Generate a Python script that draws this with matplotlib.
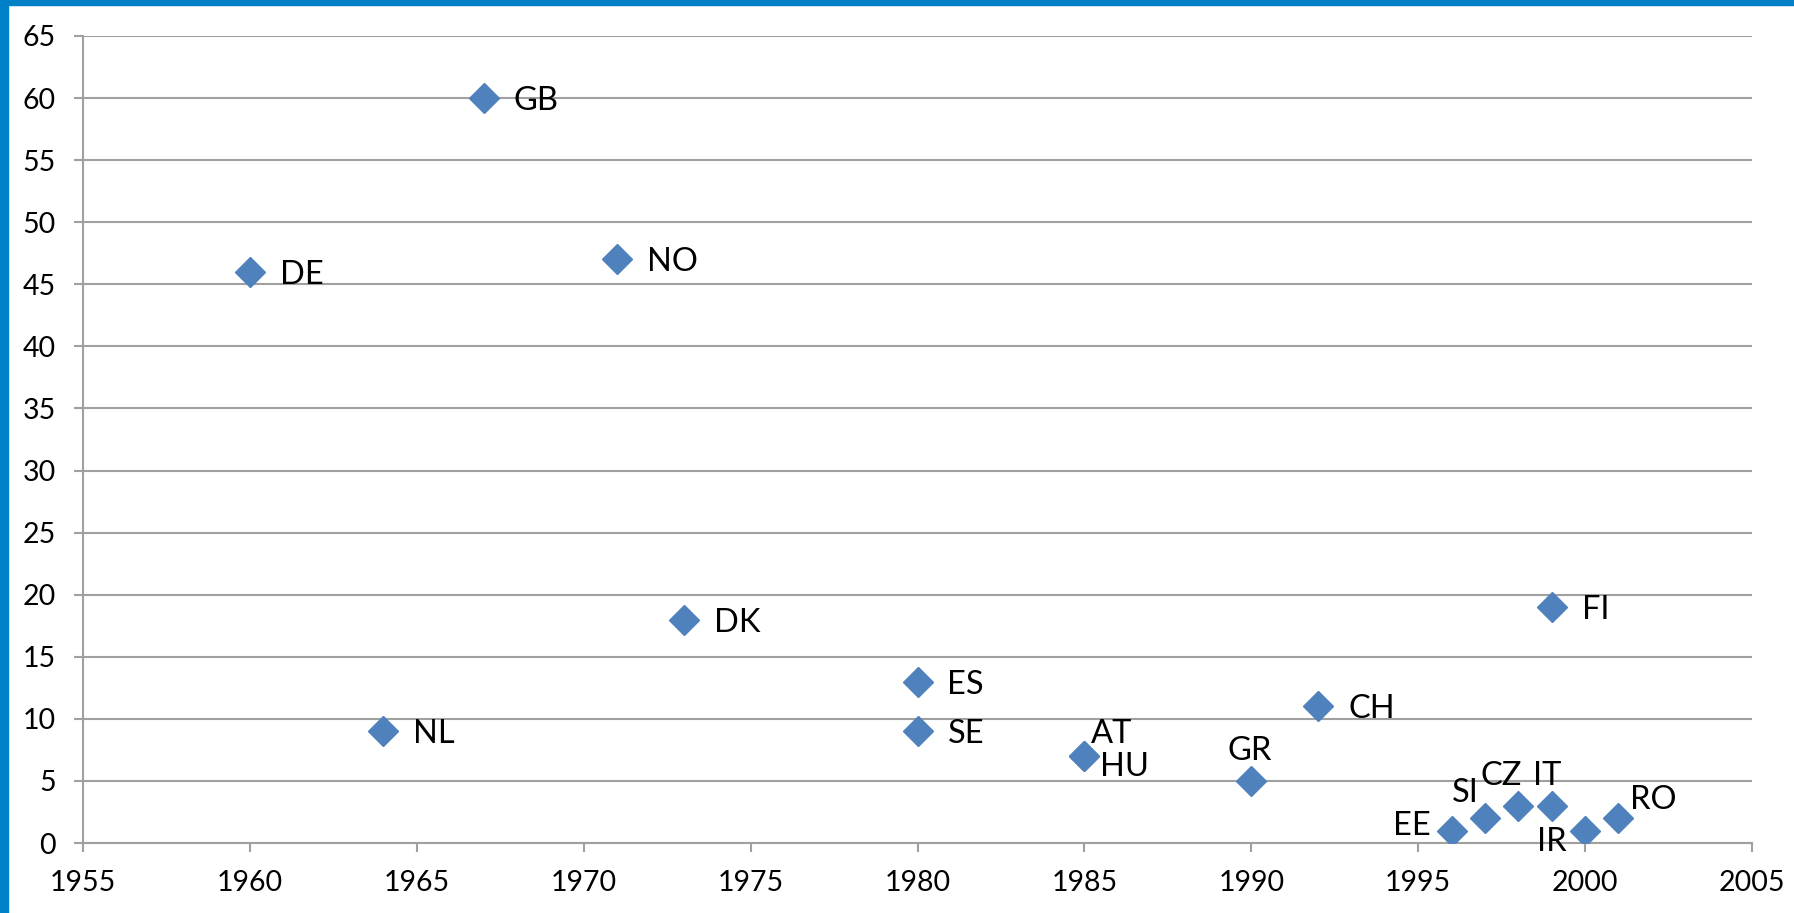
import matplotlib
matplotlib.use("Agg")
import matplotlib.pyplot as plt
from matplotlib.patches import Rectangle

# countries, year of introduction, value
labels = ["DE", "NL", "GB", "NO", "DK", "ES", "SE", "AT", "HU", "GR", "CH",
          "EE", "SI", "CZ", "IT", "FI", "IR", "RO"]
years = [1960, 1964, 1967, 1971, 1973, 1980, 1980, 1985, 1985, 1990, 1992,
         1996, 1997, 1998, 1999, 1999, 2000, 2001]
values = [46, 9, 60, 47, 18, 13, 9, 7, 7, 5, 11,
          1, 2, 3, 3, 19, 1, 2]

# label placement (pixel offset, horizontal alignment)
right = ((30, -3), "left")
place = {
    "AT": ((7, 22), "left"),
    "HU": ((16, -11), "left"),
    "GR": ((-2, 30), "center"),
    "EE": ((-21, 5), "right"),
    "SI": ((-20, 25), "center"),
    "CZ": ((-17, 30), "center"),
    "IT": ((-5, 30), "center"),
    "IR": ((-33, -11), "center"),
    "RO": ((12, 18), "left"),
}

plt.rcParams["font.family"] = ["Lato", "DejaVu Sans"]
grid_c = "#A0A0A0"

fig = plt.figure(figsize=(17.94, 9.13), dpi=100)
ax = fig.add_axes([83 / 1794, 1 - 843 / 913, (1752 - 83) / 1794, (843 - 36) / 913])

ax.plot(years, values, "D", ms=15.5, color="#4F81BD", mec="#4F81BD", zorder=3)
for lab, x, y in zip(labels, years, values):
    off, ha = place.get(lab, right)
    ax.annotate(lab, (x, y), xytext=off, textcoords="offset pixels",
                ha=ha, va="center", fontsize=23.5, color="black", zorder=4)

ax.set_xlim(1955, 2005)
ax.set_ylim(0, 65)
ax.set_xticks(range(1955, 2006, 5))
ax.set_yticks(range(0, 66, 5))
ax.grid(axis="y", color=grid_c, lw=1.5)
ax.set_axisbelow(True)
for s in ["top", "right"]:
    ax.spines[s].set_visible(False)
for s in ["left", "bottom"]:
    ax.spines[s].set_color(grid_c)
    ax.spines[s].set_linewidth(1.5)
ax.tick_params(length=6.5, width=1.5, color=grid_c, labelsize=20.5, pad=13)

# blue frame bits
fig.patches.append(Rectangle((0, 0), 8 / 1794, 1, transform=fig.transFigure,
                             color="#0082CA", zorder=5))
fig.patches.append(Rectangle((0, 1 - 5 / 913), 1, 5 / 913, transform=fig.transFigure,
                             color="#0080C6", zorder=5))

fig.savefig("out.png", dpi=100)
